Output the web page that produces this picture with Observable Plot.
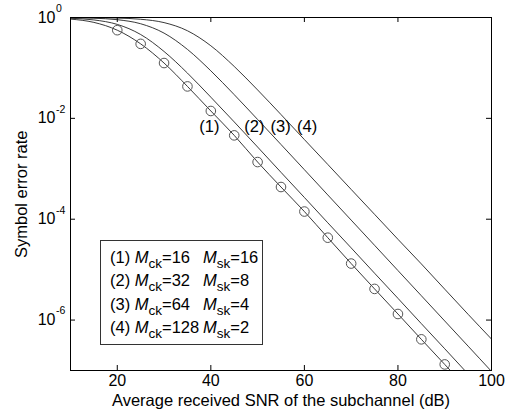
<!DOCTYPE html>
<html>
<head>
<meta charset="utf-8">
<script src="https://cdn.jsdelivr.net/npm/d3@7"></script>
<script src="https://cdn.jsdelivr.net/npm/@observablehq/plot@0.6"></script>
<style>
  html, body { margin: 0; padding: 0; background: #fff; }
  #wrap { position: relative; width: 505px; height: 417px; font-family: "Liberation Sans", Arial, sans-serif; }
  #wrap svg { display: block; }
  #legend { position: absolute; left: 100px; top: 240px; width: 163px; height: 105px; border: 1px solid #333;
            background: #fff; box-sizing: border-box; padding: 5px 0 0 9px; font-size: 16.5px; color: #000; }
  #legend .row { height: 23.4px; line-height: 23.4px; white-space: nowrap; }
  #legend .c1 { display: inline-block; width: 93px; }
  #legend .sub { font-size: 13.5px; position: relative; top: 5px; }
  #ylab { position: absolute; left: 11px; top: 258px; transform-origin: 0 0; transform: rotate(-90deg);
          white-space: nowrap; font-size: 16.5px; line-height: 20px; color: #000; }
</style>
</head>
<body>
<div id="wrap"></div>
<script>
// SNR axis (dB)
const snr = [10, 15, 20, 25, 30, 35, 40, 45, 50, 55, 60, 65, 70, 75, 80, 85, 90, 95, 100];
// Symbol error rate, curves (1)-(4)
const ser1 = [0.93, 0.80, 0.56, 0.30, 0.125, 0.043, 0.0140, 0.0046, 1.36e-3, 4.35e-4, 1.42e-4, 4.3e-5, 1.32e-5, 4.15e-6, 1.32e-6, 4.15e-7, 1.32e-7, 4.2e-8, 1.32e-8];
const ser2 = [0.965, 0.895, 0.73, 0.46, 0.212, 0.079, 0.0263, 0.0085, 2.7e-3, 8.5e-4, 2.7e-4, 8.5e-5, 2.7e-5, 8.5e-6, 2.7e-6, 8.5e-7, 2.7e-7, 8.5e-8, 2.7e-8];
const ser3 = [0.99, 0.968, 0.905, 0.752, 0.49, 0.233, 0.0876, 0.0295, 9.5e-3, 3.03e-3, 9.6e-4, 3.03e-4, 9.6e-5, 3.04e-5, 9.6e-6, 3.04e-6, 9.6e-7, 3.04e-7, 9.6e-8];
const ser4 = [0.997, 0.992, 0.974, 0.923, 0.792, 0.546, 0.275, 0.107, 0.0366, 0.0119, 3.8e-3, 1.22e-3, 3.9e-4, 1.25e-4, 4.0e-5, 1.3e-5, 4.1e-6, 1.3e-6, 4.2e-7];
// SNRs with circle markers on curve (1)
const markerSnr = [20, 25, 30, 35, 40, 45, 50, 55, 60, 65, 70, 75, 80, 85, 90];
// Curve labels
const curveLabels = ["(1)", "(2)", "(3)", "(4)"];
const labelSnr = [39.7, 49.3, 54.9, 60.6];
const labelSer = [0.0068, 0.0068, 0.0068, 0.0068];
// Ticks
const xTicks = [20, 40, 60, 80, 100];
const yExps = [0, -2, -4, -6];
// Legend content
const mck = [16, 32, 64, 128];
const msk = [16, 8, 4, 2];
const xLabel = "Average received SNR of the subchannel (dB)";
const yLabel = "Symbol error rate";

const series = [ser1, ser2, ser3, ser4];
const lineData = series.flatMap((s, k) => s.map((v, i) => ({curve: k + 1, snr: snr[i], ser: v})));
const markers = markerSnr.map(x => ({snr: x, ser: ser1[snr.indexOf(x)]}));
const labels = curveLabels.map((t, i) => ({t, snr: labelSnr[i], ser: labelSer[i]}));

const FS = 16;
const chart = Plot.plot({
  width: 505,
  height: 417,
  marginLeft: 70,
  marginRight: 14,
  marginTop: 17,
  marginBottom: 47,
  style: {fontFamily: '"Liberation Sans", Arial, sans-serif', background: "white", color: "black"},
  x: {type: "linear", domain: [10, 100], axis: null},
  y: {type: "log", domain: [1e-7, 1], axis: null},
  marks: [
    Plot.line(lineData, {x: "snr", y: "ser", z: "curve", stroke: "#222", strokeWidth: 0.9, curve: "monotone-x", clip: true}),
    Plot.dot(markers, {x: "snr", y: "ser", r: 4.8, stroke: "#555", strokeWidth: 1, fill: "none", clip: true}),
    Plot.text(labels, {x: "snr", y: "ser", text: "t", fontSize: 16.5, fill: "black"}),
    Plot.frame({stroke: "#000", strokeWidth: 1}),
    // inward ticks
    Plot.tickX(xTicks.filter(d => d < 100), {x: d => d, insetTop: 348, stroke: "#000"}),
    Plot.tickX(xTicks.filter(d => d < 100), {x: d => d, insetBottom: 348, stroke: "#000"}),
    Plot.tickY(yExps.filter(d => d < 0), {y: d => 10 ** d, insetRight: 416, stroke: "#000"}),
    Plot.tickY(yExps.filter(d => d < 0), {y: d => 10 ** d, insetLeft: 416, stroke: "#000"}),
    // tick labels
    Plot.text(xTicks, {x: d => d, text: d => String(d), frameAnchor: "bottom", dy: 15, fontSize: FS, fill: "black"}),
    Plot.text(yExps, {y: d => 10 ** d, text: () => "10", frameAnchor: "left", textAnchor: "end", dx: -15, fontSize: FS, fill: "black"}),
    Plot.text(yExps, {y: d => 10 ** d, text: d => String(d), frameAnchor: "left", textAnchor: "start", dx: -14.5, dy: -9, fontSize: 10.5, fill: "black"}),
    // x axis label
    Plot.text([xLabel], {frameAnchor: "bottom", dy: 35, fontSize: 16.5, fill: "black"})
  ]
});
const wrap = document.getElementById("wrap");
wrap.appendChild(chart);

const ylab = document.createElement("div");
ylab.id = "ylab";
ylab.textContent = yLabel;
wrap.appendChild(ylab);

const legend = document.createElement("div");
legend.id = "legend";
legend.innerHTML = curveLabels.map((t, i) =>
  `<div class="row"><span class="c1">${t} <i>M</i><span class="sub">ck</span>=${mck[i]}</span><i>M</i><span class="sub">sk</span>=${msk[i]}</div>`
).join("");
wrap.appendChild(legend);
</script>
</body>
</html>
